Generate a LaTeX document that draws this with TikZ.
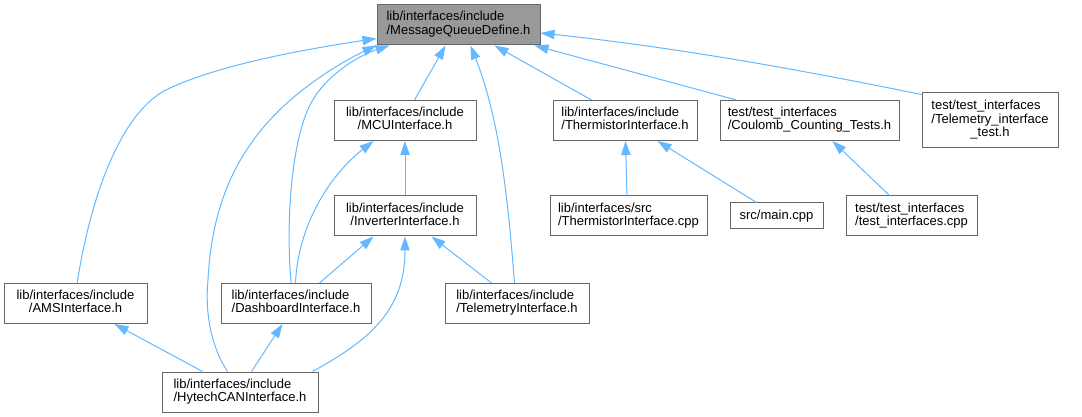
\documentclass[tikz,border=0pt]{standalone}
\usepackage{fontspec}
\setmainfont{Liberation Sans}
\usetikzlibrary{arrows.meta,calc}
\definecolor{edgec}{HTML}{63B8FF}
\definecolor{boxc}{HTML}{666666}
\definecolor{mainfill}{HTML}{999999}
\newcommand\twol[2]{\begin{tabular}{@{}l@{}}#1\\\multicolumn{1}{@{}c@{}}{#2}\end{tabular}}
\newcommand\threel[3]{\begin{tabular}{@{}l@{}}#1\\#2\\\multicolumn{1}{@{}c@{}}{#3}\end{tabular}}
\begin{document}
\begin{tikzpicture}[x=0.75pt,y=-0.75pt,
  box/.style={draw=boxc, line width=0.75pt, fill=white, inner sep=0pt,
    font=\fontsize{9.75pt}{10pt}\selectfont, minimum height=40*0.75pt},
  edge/.style={draw=edgec, line width=0.75pt, -{Triangle[length=10.5pt,width=7pt]}}]
\useasboundingbox (0,0) rectangle (1082,417);
% nodes
\node[box, fill=mainfill, minimum width=163*0.75pt] (mqd) at (458.5,25) {\twol{lib/interfaces/include}{/MessageQueueDefine.h}};
\node[box, minimum width=142*0.75pt] (mcu) at (405,120.5) {\twol{lib/interfaces/include}{/MCUInterface.h}};
\node[box, minimum width=144*0.75pt] (therm) at (625,120.5) {\twol{lib/interfaces/include}{/ThermistorInterface.h}};
\node[box, minimum width=179*0.75pt] (coul) at (809.5,120.5) {\twol{test/test\_interfaces}{/Coulomb\_Counting\_Tests.h}};
\node[box, minimum width=136*0.75pt, minimum height=55*0.75pt] (ttest) at (990,120.5) {\threel{test/test\_interfaces}{/Telemetry\_interface}{\_test.h}};
\node[box, minimum width=142*0.75pt] (inv) at (405,216) {\twol{lib/interfaces/include}{/InverterInterface.h}};
\node[box, minimum width=157*0.75pt] (tcpp) at (628.5,216) {\twol{lib/interfaces/src}{/ThermistorInterface.cpp}};
\node[box, minimum width=93*0.75pt, minimum height=26*0.75pt] (mainc) at (776.5,216) {src/main.cpp};
\node[box, minimum width=131*0.75pt] (ticpp) at (911.5,216) {\twol{test/test\_interfaces}{/test\_interfaces.cpp}};
\node[box, minimum width=143*0.75pt] (ams) at (75.5,303.5) {\twol{lib/interfaces/include}{/AMSInterface.h}};
\node[box, minimum width=150*0.75pt] (dash) at (296,303.5) {\twol{lib/interfaces/include}{/DashboardInterface.h}};
\node[box, minimum width=144*0.75pt] (tel) at (517,303.5) {\twol{lib/interfaces/include}{/TelemetryInterface.h}};
\node[box, minimum width=156*0.75pt] (hyt) at (240,392) {\twol{lib/interfaces/include}{/HytechCANInterface.h}};
% edges
\draw[edge] ($(ams.north west)+(73.7,0)$) .. controls (90,200) and (120,110) .. (170,88)
  .. controls (220,65) and (300,50) .. ($(mqd.south west)+(0,-7)$);
\draw[edge] ($(hyt.north west)+(66,0)$) .. controls (210,345) and (205,310) .. (208,280)
  .. controls (212,200) and (240,140) .. (300,92)
  .. controls (325,72) and (350,58) .. ($(mqd.south west)+(0,0)$);
\draw[edge] ($(dash.north west)+(70.7,0)$) .. controls (286,230) and (290,145) .. (310,105)
  .. controls (325,75) and (360,55) .. ($(mqd.south west)+(13,0)$);
\draw[edge] ($(dash.north west)+(75,0)$) .. controls (298,225) and (330,175) .. ($(mcu.south west)+(40,0)$);
\draw[edge] ($(dash.north west)+(99,0)$) -- ($(inv.south west)+(40,0)$);
\draw[edge] ($(mcu.north west)+(81,0)$) -- ($(mqd.south west)+(69,0)$);
\draw[edge] ($(tel.north west)+(70,0)$) .. controls (508,200) and (500,120) .. ($(mqd.south west)+(94,0)$);
\draw[edge] ($(therm.north west)+(39,0)$) -- ($(mqd.south west)+(118,0)$);
\draw[edge] ($(coul.north west)+(17,0)$) -- ($(mqd.south west)+(158,0)$);
\draw[edge] ($(ttest.north west)+(0,2)$) .. controls (840,78) and (700,50) .. ($(mqd.east)+(0,8)$);
\draw[edge] ($(ticpp.north west)+(44,0)$) -- ($(coul.south west)+(113,0)$);
\draw[edge] ($(tcpp.north west)+(77.5,0)$) -- ($(therm.south west)+(73,0)$);
\draw[edge] ($(mainc.north west)+(27,0)$) -- ($(therm.south west)+(105,0)$);
\draw[edge] (inv.north) -- (mcu.south);
\draw[edge] ($(tel.north west)+(47,0)$) -- ($(inv.south west)+(98,0)$);
\draw[edge] ($(hyt.north west)+(151,0)$) .. controls (370,340) and (405,310) .. (inv.south);
\draw[edge] ($(hyt.north west)+(41,0)$) -- ($(ams.south west)+(111,0)$);
\draw[edge] ($(hyt.north west)+(90,0)$) -- ($(dash.south west)+(62,0)$);
\end{tikzpicture}
\end{document}
